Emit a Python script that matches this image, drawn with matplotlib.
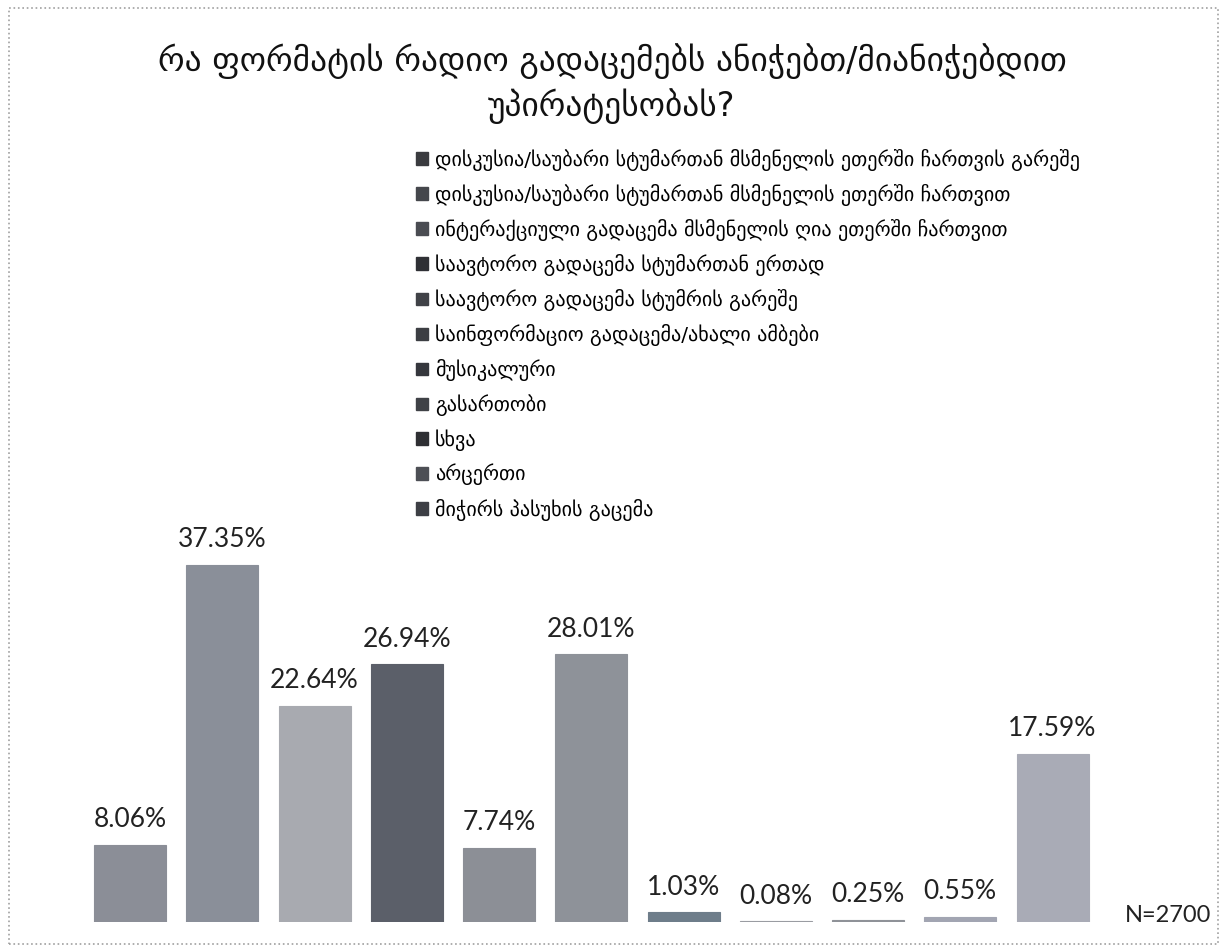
import matplotlib.pyplot as plt
from matplotlib.patches import Patch, Rectangle

plt.rcParams['font.family'] = ['DejaVu Sans']

title = 'რა ფორმატის რადიო გადაცემებს ანიჭებთ/მიანიჭებდით\nუპირატესობას?'

categories = [
    'დისკუსია/საუბარი სტუმართან მსმენელის ეთერში ჩართვის გარეშე',
    'დისკუსია/საუბარი სტუმართან მსმენელის ეთერში ჩართვით',
    'ინტერაქციული გადაცემა მსმენელის ღია ეთერში ჩართვით',
    'საავტორო გადაცემა სტუმართან ერთად',
    'საავტორო გადაცემა სტუმრის გარეშე',
    'საინფორმაციო გადაცემა/ახალი ამბები',
    'მუსიკალური',
    'გასართობი',
    'სხვა',
    'არცერთი',
    'მიჭირს პასუხის გაცემა',
]
values = [8.06, 37.35, 22.64, 26.94, 7.74, 28.01, 1.03, 0.08, 0.25, 0.55, 17.59]
n_label = 'N=2700'

bar_colors = ['#8b8e97', '#8a8f99', '#a8aab0', '#5b5f69', '#8c8f96', '#8e9299',
              '#6e7d8a', '#9a9ca2', '#8f9298', '#a2a5b2', '#a9abb6']
legend_colors = ['#3a3b3f', '#45474c', '#4a4c52', '#2f3035', '#404247', '#3c3e43',
                 '#35373d', '#3f4146', '#2e2f33', '#4d4f55', '#3d3f45']

fig = plt.figure(figsize=(12.24, 9.5), dpi=100)
ax = fig.add_axes([0.0686, 0.0295, 0.829, 0.8232])

x = range(len(values))
bars = ax.bar(x, values, width=0.78, color=bar_colors,
              edgecolor=bar_colors, linewidth=0.8)
for rect, v in zip(bars, values):
    ax.annotate(f'{v:.2f}%', (rect.get_x() + rect.get_width() / 2, v),
                xytext=(0, 9), textcoords='offset points',
                ha='center', va='bottom', fontsize=19, color='#222222',
                family='Lato')

ax.set_xlim(-0.5, len(values) - 0.5)
ax.set_ylim(0, 81.8)
ax.axis('off')

fig.text(0.5, 0.912, title, ha='center', va='center', fontsize=24,
         color='#111111', linespacing=1.35)

handles = [Patch(facecolor=c, edgecolor=c) for c in legend_colors]
fig.legend(handles, categories, loc='upper left',
           bbox_to_anchor=(0.333, 0.852), frameon=False, fontsize=14.5,
           handlelength=0.6, handleheight=0.6, handletextpad=0.35,
           labelspacing=0.65, borderaxespad=0)

fig.text(0.954, 0.036, n_label, ha='center', va='center', fontsize=17,
         color='#222222', family='Lato')

# dotted frame around the whole chart
fig.patches.append(Rectangle((0.007, 0.006), 0.988, 0.986, transform=fig.transFigure,
                             fill=False, edgecolor='#a0a0a0', linestyle=':',
                             linewidth=1.2))

fig.savefig('out.png', dpi=100, facecolor='white')
